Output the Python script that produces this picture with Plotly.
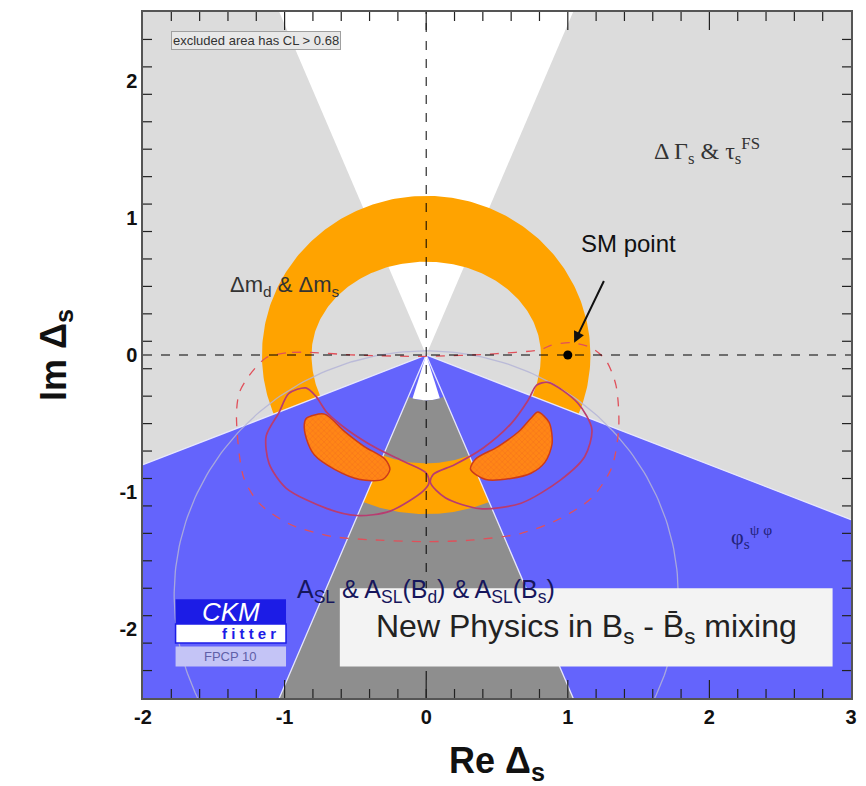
import numpy as np
import plotly.graph_objects as go

# ---------------- data ----------------
X_RANGE = [-2, 3]
Y_RANGE = [-2.5, 2.5]
x_ticks = [-2, -1, 0, 1, 2, 3]
y_ticks = [-2, -1, 0, 1, 2]
minor_step = 0.2

dgs_cone_slope = 0.415     # ΔΓs & τs^FS : allowed |Re| < slope*|Im|
phis_slope = 0.40          # φs^ψφ : excluded above Im = -slope*|Re|
asl_inner_r = 0.33         # A_SL white core radius
asl_core_halfangle = 17.0  # deg

ring_outer_r = 1.16        # Δm_d & Δm_s ring
ring_inner_a = 0.81
ring_inner_b_top = 0.68
ring_inner_b_bot = 0.79

faint_circle_center = [0.0, -1.75]
faint_circle_r = 1.78

sm_point_x = [1.0]
sm_point_y = [0.0]

left_blob_x = [-0.846, -0.718, -0.576, -0.434, -0.292, -0.256, -0.306, -0.469, -0.647, -0.789, -0.846, -0.861, -0.846]
left_blob_y = [-0.461, -0.431, -0.558, -0.669, -0.758, -0.833, -0.907, -0.907, -0.833, -0.729, -0.610, -0.506, -0.461]
right_blob_x = [0.789, 0.868, 0.889, 0.839, 0.740, 0.597, 0.420, 0.313, 0.349, 0.505, 0.654, 0.740, 0.789]
right_blob_y = [-0.416, -0.491, -0.647, -0.781, -0.862, -0.900, -0.907, -0.833, -0.758, -0.669, -0.558, -0.461, -0.416]

left_cont_x = [-1.04, -0.97, -0.85, -0.78, -0.70, -0.55, -0.35, -0.15, 0.0, 0.02, -0.02, -0.26, -0.49, -0.70, -0.99, -1.11, -1.13, -1.04]
left_cont_y = [-0.42, -0.28, -0.24, -0.30, -0.42, -0.55, -0.68, -0.78, -0.86, -0.93, -0.99, -1.14, -1.17, -1.12, -0.97, -0.79, -0.59, -0.42]
right_cont_x = [0.86, 1.07, 1.17, 1.12, 0.95, 0.67, 0.38, 0.135, 0.03, 0.05, 0.20, 0.40, 0.60, 0.72, 0.78, 0.86]
right_cont_y = [-0.20, -0.35, -0.54, -0.74, -0.91, -1.08, -1.12, -1.04, -0.93, -0.87, -0.80, -0.68, -0.50, -0.33, -0.22, -0.20]

dashed_cont_x = [-0.85, -0.99, -1.13, -1.25, -1.32, -1.34, -1.29, -1.18, -0.97, -0.68, -0.33, 0.0, 0.31, 0.67, 0.95, 1.17,
                 1.31, 1.36, 1.34, 1.27, 1.17, 1.02, 0.88, 0.81, 0.5, 0.0, -0.5, -0.85]
dashed_cont_y = [0.02, 0.015, -0.02, -0.15, -0.275, -0.446, -0.89, -1.08, -1.23, -1.32, -1.35, -1.36, -1.35, -1.30, -1.19, -1.04,
                 -0.82, -0.52, -0.22, -0.04, 0.05, 0.09, 0.07, 0.04, 0.01, -0.01, 0.0, 0.02]

# ---------------- colours ----------------
C_LGRAY = '#dcdcdc'
C_DGRAY = '#8e8e8e'
C_BLUE = '#6464fc'
C_ORANGE = '#ffa300'
C_BLOB = '#ff8616'

# ---------------- figure geometry ----------------
FIG_W, FIG_H = 858, 778          # page body adds an 8px margin
M_L, M_R, M_T, M_B = 135, 15, 2, 88
PLOT_W = FIG_W - M_L - M_R
PLOT_H = FIG_H - M_T - M_B
MAJOR_LEN, MINOR_LEN = 18, 9


def arc(r_func, th0, th1, n=120):
    th = np.linspace(np.radians(th0), np.radians(th1), n)
    r = r_func(th)
    return r * np.cos(th), r * np.sin(th)


def r_outer(th):
    return np.full_like(th, ring_outer_r)


def r_inner(th):
    b = np.where(np.sin(th) >= 0, ring_inner_b_top, ring_inner_b_bot)
    a = ring_inner_a
    return a * b / np.sqrt((b * np.cos(th)) ** 2 + (a * np.sin(th)) ** 2)


fig = go.Figure()

# white upper cone (ΔΓs allowed)
ytop = 2.7
fig.add_trace(go.Scatter(x=[0, -dgs_cone_slope * ytop, dgs_cone_slope * ytop, 0], y=[0, ytop, ytop, 0],
                         fill='toself', fillcolor='white', line=dict(width=0), mode='lines', hoverinfo='skip'))

# orange ring
ox, oy = arc(r_outer, 0, 360, 361)
ix, iy = arc(r_inner, 360, 0, 361)
fig.add_trace(go.Scatter(x=np.r_[ox, ix, ox[0]], y=np.r_[oy, iy, oy[0]], fill='toself', fillcolor=C_ORANGE,
                         line=dict(width=0), mode='lines', hoverinfo='skip'))

# blue φs region
fig.add_trace(go.Scatter(x=[0, X_RANGE[0], X_RANGE[0], X_RANGE[1], X_RANGE[1], 0],
                         y=[0, phis_slope * X_RANGE[0], -2.7, -2.7, -phis_slope * X_RANGE[1], 0],
                         fill='toself', fillcolor=C_BLUE, line=dict(width=0), mode='lines', hoverinfo='skip'))

# dark gray lower cone
half = np.degrees(np.arctan(dgs_cone_slope))
ybot = -2.7
cx, cy = arc(lambda t: np.full_like(t, asl_inner_r), -90 + half, -90 - half, 60)
fig.add_trace(go.Scatter(x=np.r_[cx, -dgs_cone_slope * -ybot, dgs_cone_slope * -ybot, cx[0]],
                         y=np.r_[cy, ybot, ybot, cy[0]],
                         fill='toself', fillcolor=C_DGRAY, line=dict(width=0), mode='lines', hoverinfo='skip'))

# white core of lower cone
wx, wy = arc(lambda t: np.full_like(t, asl_inner_r), -90 - asl_core_halfangle, -90 + asl_core_halfangle, 40)
fig.add_trace(go.Scatter(x=np.r_[0, wx, 0], y=np.r_[0, wy, 0], fill='toself', fillcolor='white',
                         line=dict(width=0), mode='lines', hoverinfo='skip'))

# orange ring sector visible inside lower cone
sox, soy = arc(r_outer, -90 - half, -90 + half, 60)
six, siy = arc(r_inner, -90 + half, -90 - half, 60)
fig.add_trace(go.Scatter(x=np.r_[sox, six, sox[0]], y=np.r_[soy, siy, soy[0]], fill='toself', fillcolor=C_ORANGE,
                         line=dict(width=0), mode='lines', hoverinfo='skip'))

# thin light edges of the regions
edge_x = [X_RANGE[0], 0, X_RANGE[1], None, -dgs_cone_slope * 2.7, 0, dgs_cone_slope * 2.7]
edge_y = [phis_slope * X_RANGE[0], 0, -phis_slope * X_RANGE[1], None, -2.7, 0, -2.7]
fig.add_trace(go.Scatter(x=edge_x, y=edge_y, mode='lines', line=dict(color='rgba(235,235,255,0.95)', width=1.3),
                         hoverinfo='skip'))

# faint large circle
tt = np.linspace(0, 2 * np.pi, 300)
fig.add_trace(go.Scatter(x=faint_circle_center[0] + faint_circle_r * np.cos(tt),
                         y=faint_circle_center[1] + faint_circle_r * np.sin(tt),
                         mode='lines', line=dict(color='rgba(180,180,215,0.85)', width=1.3), hoverinfo='skip'))

# hatched combined regions
for bx, by in [(left_blob_x, left_blob_y), (right_blob_x, right_blob_y)]:
    fig.add_trace(go.Scatter(x=bx, y=by, fill='toself', fillcolor=C_BLOB, mode='lines',
                             fillpattern=dict(shape='x', fgcolor='#e85a20', bgcolor=C_BLOB, size=4, solidity=0.25),
                             line=dict(color='#cc3a1a', width=1.5, shape='spline', smoothing=0.8), hoverinfo='skip'))

# contours
for cxs, cys in [(left_cont_x, left_cont_y), (right_cont_x, right_cont_y)]:
    fig.add_trace(go.Scatter(x=cxs, y=cys, mode='lines',
                             line=dict(color='#b83c70', width=1.7, shape='spline', smoothing=0.8), hoverinfo='skip'))
fig.add_trace(go.Scatter(x=dashed_cont_x, y=dashed_cont_y, mode='lines',
                         line=dict(color='#e0505a', width=1.3, dash='dash', shape='spline', smoothing=0.8),
                         hoverinfo='skip'))

# SM point
fig.add_trace(go.Scatter(x=sm_point_x, y=sm_point_y, mode='markers', marker=dict(color='black', size=9),
                         hoverinfo='skip'))

fig.update_traces(showlegend=False)

# dashed zero lines
for s in [dict(x0=0, x1=0, y0=Y_RANGE[0], y1=Y_RANGE[1]), dict(x0=X_RANGE[0], x1=X_RANGE[1], y0=0, y1=0)]:
    fig.add_shape(type='line', xref='x', yref='y', line=dict(color='black', width=1, dash='dash'), layer='above', **s)

# ROOT-style tick marks on all four sides (inside the frame)
TICK_LINE = dict(color='#222', width=1.2)
x_all = np.round(np.arange(X_RANGE[0], X_RANGE[1] + 1e-9, minor_step), 6)
y_all = np.round(np.arange(Y_RANGE[0], Y_RANGE[1] + 1e-9, minor_step), 6)
for v in x_all:
    if v <= X_RANGE[0] or v >= X_RANGE[1]:
        continue
    ln = (MAJOR_LEN if abs(v - round(v)) < 1e-6 else MINOR_LEN) / PLOT_H
    fig.add_shape(type='line', xref='x', yref='paper', x0=v, x1=v, y0=0, y1=ln, line=TICK_LINE, layer='above')
    fig.add_shape(type='line', xref='x', yref='paper', x0=v, x1=v, y0=1 - ln, y1=1, line=TICK_LINE, layer='above')
for v in y_all:
    if v <= Y_RANGE[0] or v >= Y_RANGE[1]:
        continue
    ln = (MAJOR_LEN if abs(v - round(v)) < 1e-6 else MINOR_LEN) / PLOT_W
    fig.add_shape(type='line', xref='paper', yref='y', x0=0, x1=ln, y0=v, y1=v, line=TICK_LINE, layer='above')
    fig.add_shape(type='line', xref='paper', yref='y', x0=1 - ln, x1=1, y0=v, y1=v, line=TICK_LINE, layer='above')

# boxes
fig.add_shape(type='rect', xref='x', yref='y', x0=-0.61, x1=2.87, y0=-2.27, y1=-1.70,
              fillcolor='#f3f3f3', line=dict(width=0), layer='above')
# CKMfitter logo boxes
fig.add_shape(type='rect', xref='x', yref='y', x0=-1.77, x1=-0.99, y0=-1.96, y1=-1.78,
              fillcolor='#1c1ce6', line=dict(width=0), layer='above')
fig.add_shape(type='rect', xref='x', yref='y', x0=-1.77, x1=-0.99, y0=-2.10, y1=-1.96,
              fillcolor='white', line=dict(color='#1c1ce6', width=1.5), layer='above')
fig.add_shape(type='rect', xref='x', yref='y', x0=-1.77, x1=-0.99, y0=-2.27, y1=-2.125,
              fillcolor='#c4c4f6', line=dict(width=0), layer='above')

SANS = 'Liberation Sans, Arial, Helvetica, sans-serif'
SERIF = 'Liberation Serif, Times New Roman, serif'

ann = []
ann.append(dict(x=-1.2, y=2.29, text='excluded area has CL > 0.68', showarrow=False,
                font=dict(family=SANS, size=13, color='#333'), bgcolor='#e8e8e8', bordercolor='#a0a0a0',
                borderwidth=1, borderpad=1))
ann.append(dict(x=1.98, y=1.49, text='Δ Γ<sub>s</sub> & τ<sub>s</sub><sup>FS</sup>', showarrow=False,
                font=dict(family=SERIF, size=24, color='#333')))
ann.append(dict(x=-1.0, y=0.50, text='Δm<sub>d</sub> & Δm<sub>s</sub>', showarrow=False,
                font=dict(family=SANS, size=22, color='#333')))
ann.append(dict(x=1.43, y=0.81, text='SM point', showarrow=False,
                font=dict(family=SANS, size=24, color='#111')))
ann.append(dict(x=1.045, y=0.09, ax=1.26, ay=0.55, axref='x', ayref='y', text='', showarrow=True,
                arrowhead=2, arrowsize=1.1, arrowwidth=2, arrowcolor='#111'))
ann.append(dict(x=0.0, y=-1.72, text='A<sub>SL</sub> & A<sub>SL</sub>(B<sub>d</sub>) & A<sub>SL</sub>(B<sub>s</sub>)',
                showarrow=False, font=dict(family=SANS, size=25, color='#16165c')))
ann.append(dict(x=2.3, y=-1.32, text='φ<sub>s</sub><sup>ψ φ</sup>', showarrow=False,
                font=dict(family=SERIF, size=22, color='#22227a')))
ann.append(dict(x=1.13, y=-1.99, text='New Physics in B<sub>s</sub> - B\u0304<sub>s</sub> mixing', showarrow=False,
                font=dict(family=SANS, size=32, color='#222')))
ann.append(dict(x=-1.38, y=-1.87, text='<i>CKM</i>', showarrow=False,
                font=dict(family=SANS, size=26, color='white')))
ann.append(dict(x=-1.25, y=-2.03, text='<b>f i t t e r</b>', showarrow=False,
                font=dict(family=SANS, size=15, color='#1c1ce6')))
ann.append(dict(x=-1.38, y=-2.20, text='FPCP 10', showarrow=False,
                font=dict(family=SANS, size=13, color='#6060a8')))
for a in ann:
    a.setdefault('xref', 'x')
    a.setdefault('yref', 'y')
fig.update_layout(annotations=ann)

SANS_TICK = dict(family=SANS, size=20, color='#111', weight='bold')
axis_common = dict(showgrid=False, zeroline=False, ticks='', showline=True, mirror=True,
                   linecolor='#555', linewidth=1.5)

fig.update_layout(
    xaxis=dict(range=X_RANGE, tickvals=x_ticks, ticktext=[str(v) for v in x_ticks], tickfont=SANS_TICK,
               title=dict(text='<b>Re Δ<sub>s</sub></b>', font=dict(family=SANS, size=36, color='#111'), standoff=22),
               **axis_common),
    yaxis=dict(range=Y_RANGE, tickvals=y_ticks, ticktext=[str(v) for v in y_ticks], tickfont=SANS_TICK,
               title=dict(text='<b>Im Δ<sub>s</sub></b>', font=dict(family=SANS, size=36, color='#111'), standoff=42),
               **axis_common),
)

fig.update_layout(width=FIG_W, height=FIG_H, margin=dict(l=M_L, r=M_R, t=M_T, b=M_B),
                  plot_bgcolor=C_LGRAY, paper_bgcolor='white', showlegend=False)

fig.write_html('out.html')
